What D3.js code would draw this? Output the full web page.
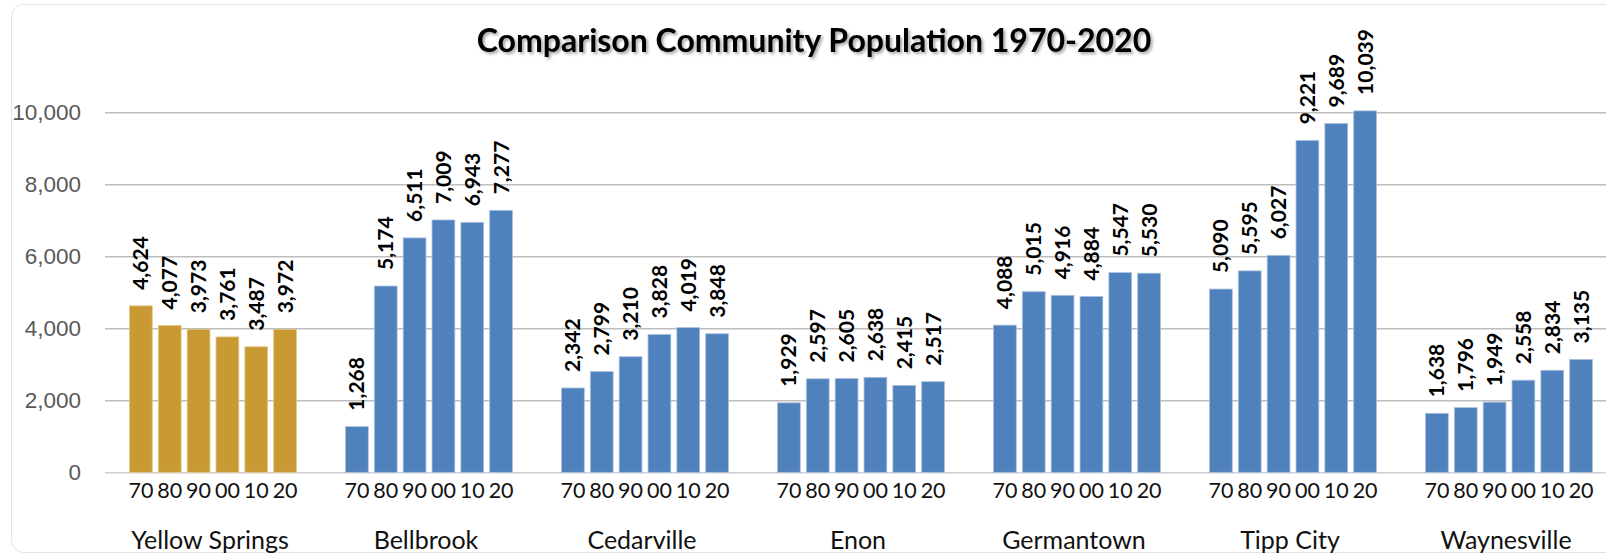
<!DOCTYPE html>
<html>
<head>
<meta charset="utf-8">
<script src="https://cdn.jsdelivr.net/npm/d3@7"></script>
<style>
  html, body { margin: 0; padding: 0; background: #fff; }
  svg { display: block; }
</style>
</head>
<body>
<div id="chart"></div>
<script>
// data
const cities = ["Yellow Springs", "Bellbrook", "Cedarville", "Enon", "Germantown", "Tipp City", "Waynesville"];
const years = ["70", "80", "90", "00", "10", "20"];
const yellowSprings = [4624, 4077, 3973, 3761, 3487, 3972];
const bellbrook = [1268, 5174, 6511, 7009, 6943, 7277];
const cedarville = [2342, 2799, 3210, 3828, 4019, 3848];
const enon = [1929, 2597, 2605, 2638, 2415, 2517];
const germantown = [4088, 5015, 4916, 4884, 5547, 5530];
const tippCity = [5090, 5595, 6027, 9221, 9689, 10039];
const waynesville = [1638, 1796, 1949, 2558, 2834, 3135];
const yTicks = [0, 2000, 4000, 6000, 8000, 10000];

const series = [yellowSprings, bellbrook, cedarville, enon, germantown, tippCity, waynesville];
const data = cities.map((c, i) => ({
  city: c,
  values: years.map((yr, j) => ({ city: c, year: yr, value: series[i][j] }))
}));

const W = 1606, H = 553;
const svg = d3.select("#chart").append("svg")
  .attr("width", W)
  .attr("height", H);

// title shadow
const defs = svg.append("defs");
const f = defs.append("filter").attr("id", "shadow").attr("x", "-5%").attr("y", "-30%").attr("width", "110%").attr("height", "160%");
f.append("feDropShadow").attr("dx", 2).attr("dy", 2).attr("stdDeviation", 1.5)
  .attr("flood-color", "#000").attr("flood-opacity", 0.35);

// chart frame
svg.append("rect")
  .attr("x", 11.5).attr("y", 4.5)
  .attr("width", W + 20).attr("height", H - 5)
  .attr("rx", 12)
  .attr("fill", "#fff")
  .attr("stroke", "#e3e3e3");

// scales
const x0 = d3.scaleBand()
  .domain(cities)
  .range([105, 1617]);

const x1 = d3.scaleBand()
  .domain(years)
  .range([0, x0.bandwidth()])
  .paddingInner(0.21)
  .paddingOuter(0.85);

const y = d3.scaleLinear()
  .domain([0, 10000])
  .range([472.3, 112.3]);

// grid + y axis
const yAxis = svg.append("g")
  .attr("transform", "translate(105,0)")
  .call(d3.axisLeft(y).tickValues(yTicks).tickSize(-(W - 105)).tickPadding(24).tickFormat(d3.format(",")));
yAxis.select(".domain").remove();
yAxis.selectAll(".tick line")
  .attr("stroke", d => d === 0 ? "#d0d0d0" : "#bdbdbd")
  .attr("stroke-width", 1.5);
yAxis.selectAll(".tick text")
  .attr("fill", "#595959")
  .style("font-family", "'Liberation Sans', Arial, sans-serif")
  .style("font-size", "22.5px");

// groups
const groups = svg.selectAll("g.city")
  .data(data)
  .join("g")
  .attr("class", "city")
  .attr("transform", d => `translate(${x0(d.city)},0)`);

groups.selectAll("rect")
  .data(d => d.values)
  .join("rect")
  .attr("x", d => x1(d.year))
  .attr("width", x1.bandwidth())
  .attr("y", d => y(d.value))
  .attr("height", d => y(0) - y(d.value))
  .attr("fill", d => d.city === "Yellow Springs" ? "#C99A33" : "#4F81BD")
  .attr("stroke", d => d.city === "Yellow Springs" ? "#e2c98f" : "#a9c0de")
  .attr("stroke-width", 0.8);

// value labels
groups.selectAll("text.val")
  .data(d => d.values)
  .join("text")
  .attr("class", "val")
  .attr("transform", d => `translate(${x1(d.year) + x1.bandwidth() / 2},${y(d.value) - 16}) rotate(-90)`)
  .attr("dy", "0.36em")
  .attr("text-anchor", "start")
  .style("font-family", "Lato, Carlito, Calibri, sans-serif")
  .style("font-weight", "bold")
  .style("font-size", "21px")
  .attr("fill", "#000")
  .text(d => d3.format(",")(d.value));

// year ticks per group
groups.each(function() {
  const ax = d3.select(this).append("g")
    .attr("transform", `translate(0,${y(0)})`)
    .call(d3.axisBottom(x1).tickSize(0).tickPadding(10));
  ax.select(".domain").remove();
  ax.selectAll("text")
    .attr("fill", "#111")
    .style("font-family", "Lato, Carlito, Calibri, sans-serif")
    .style("font-size", "21.5px");
});

// city labels
groups.append("text")
  .attr("x", x0.bandwidth() / 2 - 3)
  .attr("y", 540)
  .attr("dy", "0.35em")
  .attr("text-anchor", "middle")
  .style("font-family", "Lato, Carlito, Calibri, sans-serif")
  .style("font-size", "25px")
  .attr("fill", "#111")
  .text(d => d.city);

// title
svg.append("text")
  .attr("x", 814)
  .attr("y", 52)
  .attr("text-anchor", "middle")
  .attr("filter", "url(#shadow)")
  .style("font-family", "Lato, Carlito, Calibri, sans-serif")
  .style("font-weight", "bold")
  .style("font-size", "32px")
  .attr("fill", "#000")
  .text("Comparison Community Population 1970-2020");
</script>
</body>
</html>
